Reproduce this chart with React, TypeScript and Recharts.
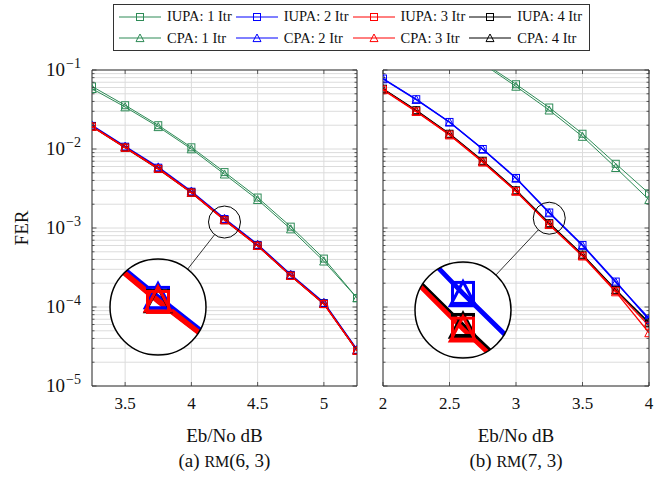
import React from 'react'
import { LineChart, Line, XAxis, YAxis, CartesianGrid, ReferenceArea, ReferenceDot } from 'recharts'

const W = 661
const H = 479
const FONT = "'Liberation Serif', 'Times New Roman', serif"
const GREEN = '#2e8b57'
const BLUE = '#0000ff'
const RED = '#ff0000'
const BLACK = '#000000'

// x values (Eb/No dB)
const xA = [3.25, 3.5, 3.75, 4, 4.25, 4.5, 4.75, 5, 5.25]
const xB = [2, 2.25, 2.5, 2.75, 3, 3.25, 3.5, 3.75, 4]
const xTicksA = [3.5, 4, 4.5, 5]
const xTicksB = [2, 2.5, 3, 3.5, 4]

// (a) RM(6,3)
const iupa1A = [0.062, 0.0358, 0.02, 0.0105, 0.0051, 0.00243, 0.00104, 0.00041, 0.00013]
const cpa1A = [0.058, 0.034, 0.0191, 0.01, 0.0048, 0.00228, 0.00097, 0.00038, 0.00013]
const iupa2A = [0.0196, 0.0107, 0.0058, 0.00288, 0.0013, 0.00061, 0.000255, 0.000112, 0.0000285]
const cpa2A = [0.0199, 0.0108, 0.0059, 0.00292, 0.00132, 0.00062, 0.000258, 0.000114, 0.000029]
const iupa3A = [0.0192, 0.0104, 0.0056, 0.0028, 0.00125, 0.000595, 0.000248, 0.000109, 0.000028]
const cpa3A = [0.0194, 0.0105, 0.0057, 0.00283, 0.00128, 0.0006, 0.00025, 0.00011, 0.0000282]
const iupa4A = [0.0193, 0.0104, 0.0056, 0.00281, 0.00126, 0.000597, 0.000249, 0.00011, 0.000028]
const cpa4A = [0.0194, 0.0105, 0.0057, 0.00282, 0.00127, 0.0006, 0.00025, 0.00011, 0.0000282]

// (b) RM(7,3)
const iupa1B = [null, null, null, 0.125, 0.066, 0.0335, 0.0156, 0.0065, 0.00274]
const cpa1B = [null, null, null, 0.12, 0.062, 0.031, 0.0144, 0.0058, 0.00228]
const iupa2B = [0.078, 0.0427, 0.022, 0.01, 0.0043, 0.00157, 0.00061, 0.00021, 0.000069]
const cpa2B = [0.077, 0.0422, 0.0218, 0.0099, 0.00425, 0.00155, 0.0006, 0.000205, 0.000072]
const iupa3B = [0.0565, 0.03, 0.0152, 0.0069, 0.00293, 0.00111, 0.000445, 0.00016, 0.000058]
const cpa3B = [0.056, 0.0297, 0.015, 0.0068, 0.0029, 0.0011, 0.00044, 0.000155, 0.000047]
const iupa4B = [0.058, 0.031, 0.0156, 0.0071, 0.003, 0.00115, 0.00046, 0.000165, 0.000062]
const cpa4B = [0.0575, 0.0305, 0.0155, 0.007, 0.00298, 0.00114, 0.000455, 0.000163, 0.000064]

// zoomed spots (data coords)
const focusA = { x: 4.25, y: 0.00119 }
const focusB = { x: 3.25, y: 0.00133 }

const decadeExps = [-5, -4, -3, -2]
const mantissas = [1, 2, 3, 4, 5, 6, 7, 8, 9]
const yTicks = [...decadeExps.flatMap(e => mantissas.map(m => m * Math.pow(10, e))), 0.1]

const series = [
  { key: 'iupa1', name: 'IUPA: 1 Itr', color: GREEN, shape: 'square', w: 1 },
  { key: 'cpa1', name: 'CPA: 1 Itr', color: GREEN, shape: 'triangle', w: 1 },
  { key: 'iupa2', name: 'IUPA: 2 Itr', color: BLUE, shape: 'square', w: 1.3 },
  { key: 'cpa2', name: 'CPA: 2 Itr', color: BLUE, shape: 'triangle', w: 1.3 },
  { key: 'iupa4', name: 'IUPA: 4 Itr', color: BLACK, shape: 'square', w: 1.3 },
  { key: 'cpa4', name: 'CPA: 4 Itr', color: BLACK, shape: 'triangle', w: 1.3 },
  { key: 'iupa3', name: 'IUPA: 3 Itr', color: RED, shape: 'square', w: 1.3 },
  { key: 'cpa3', name: 'CPA: 3 Itr', color: RED, shape: 'triangle', w: 1.3 },
]
const legendOrder = ['iupa1', 'iupa2', 'iupa3', 'iupa4', 'cpa1', 'cpa2', 'cpa3', 'cpa4']

const dataA = xA.map((x, i) => ({
  x, iupa1: iupa1A[i], cpa1: cpa1A[i], iupa2: iupa2A[i], cpa2: cpa2A[i],
  iupa3: iupa3A[i], cpa3: cpa3A[i], iupa4: iupa4A[i], cpa4: cpa4A[i],
}))
const dataB = xB.map((x, i) => ({
  x, iupa1: iupa1B[i], cpa1: cpa1B[i], iupa2: iupa2B[i], cpa2: cpa2B[i],
  iupa3: iupa3B[i], cpa3: cpa3B[i], iupa4: iupa4B[i], cpa4: cpa4B[i],
}))

// layout
const PLOT_TOP = 70
const PLOT_BOTTOM = 386
const MAG = 3
const R = 48

const panelA = { left: 0, width: 370, yAxisW: 92, marginRight: 13, x0: 3.25, x1: 5.25, xTicks: xTicksA, labels: true }
const panelB = { left: 370, width: 291, yAxisW: 13, marginRight: 12, x0: 2, x1: 4, xTicks: xTicksB, labels: false }

const isDecade = (v: number) => Math.abs(Math.log10(v) - Math.round(Math.log10(v))) < 1e-6

function toPx(p: any, x: number, y: number) {
  const l = p.left + p.yAxisW
  const r = p.left + p.width - p.marginRight
  return [
    l + ((x - p.x0) / (p.x1 - p.x0)) * (r - l),
    PLOT_TOP + ((-1 - Math.log10(y)) / 4) * (PLOT_BOTTOM - PLOT_TOP),
  ]
}

function Marker({ shape, cx, cy, s, color, sw }: any) {
  if (shape === 'square') {
    return <rect x={cx - s / 2} y={cy - s / 2} width={s} height={s} fill="none" stroke={color} strokeWidth={sw} />
  }
  const h = s * 0.9
  const pts = `${cx - s / 2},${cy + h / 2} ${cx + s / 2},${cy + h / 2} ${cx},${cy - h / 2 - s * 0.05}`
  return <polygon points={pts} fill="none" stroke={color} strokeWidth={sw} />
}

function makeDot(shape: string, color: string, s: number, sw: number) {
  return (props: any) => {
    const { cx, cy, index } = props
    if (cx == null || cy == null || props.value == null) return <g key={`d${index}`} />
    return (
      <g key={`d${index}`}>
        <Marker shape={shape} cx={cx} cy={cy} s={s} color={color} sw={sw} />
      </g>
    )
  }
}

function YTick(props: any) {
  const { x, y, payload, plotW, labels } = props
  const v = payload.value
  const major = isDecade(v)
  const len = major ? 4.5 : 2.5
  const exp = Math.round(Math.log10(v))
  return (
    <g>
      <line x1={x} x2={x + len} y1={y} y2={y} stroke="#333" strokeWidth={0.8} />
      <line x1={x + plotW} x2={x + plotW - len} y1={y} y2={y} stroke="#333" strokeWidth={0.8} />
      {labels && major && (
        <text x={x - 11} y={y + 6} textAnchor="end" style={{ fontFamily: FONT, fontSize: 19 }} fill="#111">
          10<tspan dx={1} dy={-8} style={{ fontSize: 14 }}>{'\u2212' + Math.abs(exp)}</tspan>
        </text>
      )}
    </g>
  )
}

function XTick(props: any) {
  const { x, y, payload, plotH } = props
  return (
    <g>
      <line x1={x} x2={x} y1={y} y2={y - 4} stroke="#333" strokeWidth={0.8} />
      <line x1={x} x2={x} y1={y - plotH} y2={y - plotH + 4} stroke="#333" strokeWidth={0.8} />
      <text x={x} y={y + 23} textAnchor="middle" style={{ fontFamily: FONT, fontSize: 17 }} fill="#111">
        {payload.value}
      </text>
    </g>
  )
}

function Panel({ data, cfg, focus }: any) {
  const plotW = cfg.width - cfg.yAxisW - cfg.marginRight
  const plotH = PLOT_BOTTOM - PLOT_TOP
  return (
    <div style={{ position: 'absolute', left: cfg.left, top: 0 }}>
      <LineChart
        width={cfg.width}
        height={H}
        data={data}
        margin={{ top: PLOT_TOP, right: cfg.marginRight, left: 0, bottom: H - PLOT_BOTTOM - 30 }}
      >
        <CartesianGrid stroke="#dcdcdc" strokeWidth={1} />
        <XAxis
          type="number"
          dataKey="x"
          domain={[cfg.x0, cfg.x1]}
          ticks={cfg.xTicks}
          interval={0}
          allowDataOverflow
          height={30}
          tickSize={0}
          tickMargin={0}
          tickLine={false}
          axisLine={false}
          tick={(p: any) => <XTick {...p} plotH={plotH} />}
        />
        <YAxis
          scale="log"
          domain={[1e-5, 1e-1]}
          ticks={yTicks}
          interval={0}
          allowDataOverflow
          width={cfg.yAxisW}
          tickSize={0}
          tickMargin={0}
          tickLine={false}
          axisLine={false}
          tick={(p: any) => <YTick {...p} plotW={plotW} labels={cfg.labels} />}
        />
        <ReferenceArea x1={cfg.x0} x2={cfg.x1} y1={1e-5} y2={1e-1} fill="none" stroke="#333" strokeWidth={1} ifOverflow="visible" />
        {series.map(s => (
          <Line
            key={s.key}
            dataKey={s.key}
            stroke={s.color}
            strokeWidth={s.w}
            dot={makeDot(s.shape, s.color, s.shape === 'square' ? 7 : 8.5, 1)}
            activeDot={false}
            isAnimationActive={false}
          />
        ))}
        <ReferenceDot x={focus.x} y={focus.y} r={16} fill="none" stroke="#000" strokeWidth={1} />
      </LineChart>
    </div>
  )
}

function Inset({ data, cfg, focus, cx, cy }: any) {
  const l = cfg.yAxisW
  const r = cfg.width - cfg.marginRight
  const pxPerX = (r - l) / (cfg.x1 - cfg.x0)
  const pxPerDec = (PLOT_BOTTOM - PLOT_TOP) / 4
  const xHalf = R / (MAG * pxPerX)
  const yHalf = R / (MAG * pxPerDec)
  const lc = Math.log10(focus.y)
  const yDom = [Math.pow(10, lc - yHalf), Math.pow(10, lc + yHalf)]
  const ticks = yTicks.filter(t => t > yDom[0] && t < yDom[1])
  return (
    <div
      style={{
        position: 'absolute', left: cx - R, top: cy - R, width: 2 * R, height: 2 * R,
        borderRadius: '50%', overflow: 'hidden', background: '#fff',
      }}
    >
      <LineChart width={2 * R} height={2 * R} data={data} margin={{ top: 0, right: 0, left: 0, bottom: 0 }}>
        <CartesianGrid stroke="#d6d6d6" strokeWidth={3} vertical={false} />
        <XAxis type="number" dataKey="x" domain={[focus.x - xHalf, focus.x + xHalf]} allowDataOverflow height={0} tick={false} tickLine={false} axisLine={false} />
        <YAxis scale="log" domain={yDom} ticks={ticks} interval={0} allowDataOverflow width={0} tick={false} tickLine={false} axisLine={false} />
        {series.map(s => (
          <Line
            key={s.key}
            dataKey={s.key}
            stroke={s.color}
            strokeWidth={s.w * MAG}
            dot={makeDot(s.shape, s.color, (s.shape === 'square' ? 7 : 8.5) * MAG, MAG)}
            activeDot={false}
            isAnimationActive={false}
          />
        ))}
      </LineChart>
    </div>
  )
}

function Connector({ small, big }: any) {
  const dx = big[0] - small[0]
  const dy = big[1] - small[1]
  const d = Math.hypot(dx, dy)
  const ux = dx / d
  const uy = dy / d
  return (
    <g>
      <circle cx={big[0]} cy={big[1]} r={R} fill="none" stroke="#000" strokeWidth={1.5} />
      <line x1={small[0] + ux * 16} y1={small[1] + uy * 16} x2={big[0] - ux * R} y2={big[1] - uy * R} stroke="#000" strokeWidth={0.8} />
    </g>
  )
}

function LegendBox() {
  const byKey: any = Object.fromEntries(series.map(s => [s.key, s]))
  return (
    <div
      style={{
        position: 'absolute', left: 113, top: 4, width: 477, height: 47,
        border: '1px solid #333', background: '#fff', boxSizing: 'border-box',
        display: 'grid', gridTemplateColumns: 'repeat(4, 1fr)', alignItems: 'center',
        padding: '1px 4px', fontFamily: FONT, fontSize: 14.5, color: '#111',
      }}
    >
      {legendOrder.map(k => {
        const s = byKey[k]
        return (
          <div key={k} style={{ display: 'flex', alignItems: 'center', height: 21 }}>
            <svg width={44} height={12} style={{ marginRight: 5 }}>
              <line x1={1} x2={43} y1={6} y2={6} stroke={s.color} strokeWidth={1} />
              <Marker shape={s.shape} cx={22} cy={6} s={s.shape === 'square' ? 7 : 8} color={s.color} sw={1} />
            </svg>
            <span>{s.name}</span>
          </div>
        )
      })}
    </div>
  )
}

const textStyle: any = { position: 'absolute', fontFamily: FONT, color: '#111', whiteSpace: 'nowrap', transform: 'translate(-50%, -50%)' }

export default function App() {
  const smallA = toPx(panelA, focusA.x, focusA.y)
  const smallB = toPx(panelB, focusB.x, focusB.y)
  const bigA = [158, 307]
  const bigB = [463, 310]
  const centerA = (panelA.left + panelA.yAxisW + panelA.left + panelA.width - panelA.marginRight) / 2
  const centerB = (panelB.left + panelB.yAxisW + panelB.left + panelB.width - panelB.marginRight) / 2
  return (
    <div style={{ position: 'absolute', left: 0, top: 0, width: W, height: H, background: '#fff', overflow: 'hidden' }}>
      <Panel data={dataA} cfg={panelA} focus={focusA} />
      <Panel data={dataB} cfg={panelB} focus={focusB} />
      <Inset data={dataA} cfg={panelA} focus={focusA} cx={bigA[0]} cy={bigA[1]} />
      <Inset data={dataB} cfg={panelB} focus={focusB} cx={bigB[0]} cy={bigB[1]} />
      <svg width={W} height={H} style={{ position: 'absolute', left: 0, top: 0, pointerEvents: 'none' }}>
        <Connector small={smallA} big={bigA} />
        <Connector small={smallB} big={bigB} />
      </svg>
      <LegendBox />
      <div style={{ ...textStyle, left: 22, top: 228, fontSize: 19, transform: 'translate(-50%, -50%) rotate(-90deg)' }}>FER</div>
      <div style={{ ...textStyle, left: centerA, top: 436, fontSize: 19 }}>Eb/No dB</div>
      <div style={{ ...textStyle, left: centerB, top: 436, fontSize: 19 }}>Eb/No dB</div>
      <div style={{ ...textStyle, left: centerA, top: 461, fontSize: 19 }}>(a) <span style={{ fontSize: 16 }}>RM</span>(6, 3)</div>
      <div style={{ ...textStyle, left: centerB, top: 461, fontSize: 19 }}>(b) <span style={{ fontSize: 16 }}>RM</span>(7, 3)</div>
    </div>
  )
}
